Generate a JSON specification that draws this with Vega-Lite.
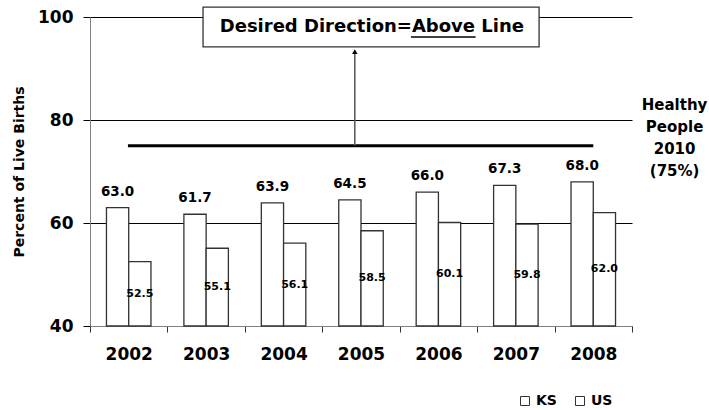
{
  "$schema": "https://vega.github.io/schema/vega-lite/v6.json",
  "width": 542,
  "height": 309,
  "autosize": {"type": "none"},
  "padding": {"left": 90, "top": 17, "right": 77, "bottom": 84},
  "background": "white",
  "config": {
    "font": "DejaVu Sans",
    "view": {"stroke": null},
    "axis": {"labelFont": "DejaVu Sans", "titleFont": "DejaVu Sans"},
    "legend": {"labelFont": "DejaVu Sans"},
    "text": {"font": "DejaVu Sans"}
  },
  "datasets": {
    "births": [
      {"year": "2002", "series": "KS", "value": 63.0},
      {"year": "2002", "series": "US", "value": 52.5},
      {"year": "2003", "series": "KS", "value": 61.7},
      {"year": "2003", "series": "US", "value": 55.1},
      {"year": "2004", "series": "KS", "value": 63.9},
      {"year": "2004", "series": "US", "value": 56.1},
      {"year": "2005", "series": "KS", "value": 64.5},
      {"year": "2005", "series": "US", "value": 58.5},
      {"year": "2006", "series": "KS", "value": 66.0},
      {"year": "2006", "series": "US", "value": 60.1},
      {"year": "2007", "series": "KS", "value": 67.3},
      {"year": "2007", "series": "US", "value": 59.8},
      {"year": "2008", "series": "KS", "value": 68.0},
      {"year": "2008", "series": "US", "value": 62.0}
    ]
  },
  "layer": [
    {
      "data": {"name": "births"},
      "encoding": {
        "x": {
          "field": "year",
          "type": "nominal",
          "scale": {"paddingInner": 0, "paddingOuter": 0},
          "axis": {
            "title": null,
            "labelAngle": 0,
            "labelFontSize": 17,
            "labelFontWeight": "bold",
            "labelColor": "black",
            "labelPadding": 14,
            "tickBand": "extent",
            "tickSize": 6,
            "tickColor": "#333",
            "domainColor": "#808080",
            "grid": false
          }
        },
        "xOffset": {"field": "series", "type": "nominal", "scale": {"paddingInner": 0, "paddingOuter": 0.74}},
        "y": {
          "field": "value",
          "type": "quantitative",
          "title": "Percent of Live Births",
          "scale": {"domain": [40, 100], "nice": false, "zero": false},
          "axis": {
            "values": [40, 60, 80, 100],
            "grid": true,
            "gridColor": "black",
            "gridOpacity": 1,
            "gridWidth": 1,
            "domainColor": "#808080",
            "tickColor": "black",
            "tickSize": 7,
            "labelFontSize": 17,
            "labelFontWeight": "bold",
            "labelColor": "black",
            "labelPadding": 10,
            "titleFontSize": 14,
            "titleFontWeight": "bold",
            "titleColor": "black",
            "titleAngle": -90,
            "titleX": -71,
            "titleY": 154.5,
            "titleAlign": "center",
            "titleBaseline": "middle"
          }
        }
      },
      "layer": [
        {
          "mark": {"type": "bar", "stroke": "#333", "strokeWidth": 1.3},
          "encoding": {
            "y2": {"datum": 40},
            "color": {
              "field": "series",
              "type": "nominal",
              "scale": {"range": ["white", "white"]},
              "legend": {
                "title": null,
                "orient": "none",
                "legendX": 428,
                "legendY": 377,
                "direction": "horizontal",
                "symbolType": "square",
                "symbolSize": 81,
                "symbolStrokeColor": "#333",
                "symbolStrokeWidth": 1,
                "labelFontSize": 14,
                "labelFontWeight": "bold",
                "labelColor": "black",
                "labelOffset": 4,
                "columnPadding": 16
              }
            }
          }
        },
        {
          "transform": [{"filter": "datum.series === 'KS'"}],
          "mark": {"type": "text", "baseline": "bottom", "dy": -9, "fontSize": 13.5, "fontWeight": "bold", "color": "black"},
          "encoding": {"text": {"field": "value", "type": "quantitative", "format": ".1f"}}
        },
        {
          "transform": [
            {"filter": "datum.series === 'US'"},
            {"calculate": "(datum.value + 40) / 2", "as": "mid"}
          ],
          "mark": {"type": "text", "baseline": "middle", "fontSize": 11, "fontWeight": "bold", "color": "black"},
          "encoding": {
            "y": {"field": "mid", "type": "quantitative", "title": "Percent of Live Births"},
            "text": {"field": "value", "type": "quantitative", "format": ".1f"}
          }
        }
      ]
    },
    {
      "data": {"values": [{}]},
      "layer": [
        {
          "mark": {"type": "rule", "color": "black", "strokeWidth": 3},
          "encoding": {
            "x": {"datum": 0.49, "type": "quantitative", "scale": {"domain": [0, 7], "nice": false, "zero": false}, "axis": null},
            "x2": {"datum": 6.5},
            "y": {"datum": 75, "type": "quantitative", "title": "Percent of Live Births"}
          }
        },
        {
          "mark": {"type": "rule", "color": "#555", "strokeWidth": 1.5},
          "encoding": {
            "x": {"datum": 3.42, "type": "quantitative", "scale": {"domain": [0, 7], "nice": false, "zero": false}, "axis": null},
            "y": {"datum": 75, "type": "quantitative", "title": "Percent of Live Births"},
            "y2": {"datum": 93.3}
          }
        },
        {
          "mark": {"type": "point", "shape": "triangle-up", "filled": true, "color": "black", "size": 30, "opacity": 1},
          "encoding": {
            "x": {"datum": 3.42, "type": "quantitative", "scale": {"domain": [0, 7], "nice": false, "zero": false}, "axis": null},
            "y": {"datum": 93.3, "type": "quantitative", "title": "Percent of Live Births"}
          }
        },
        {
          "mark": {"type": "rect", "fill": "white", "stroke": "#333", "strokeWidth": 1.3},
          "encoding": {
            "x": {"datum": 1.46, "type": "quantitative", "scale": {"domain": [0, 7], "nice": false, "zero": false}, "axis": null},
            "x2": {"datum": 5.8},
            "y": {"datum": 101.9, "type": "quantitative", "title": "Percent of Live Births"},
            "y2": {"datum": 94.2}
          }
        },
        {
          "mark": {"type": "text", "align": "center", "baseline": "middle", "fontSize": 18, "fontWeight": "bold", "color": "black"},
          "encoding": {
            "x": {"datum": 3.64, "type": "quantitative", "scale": {"domain": [0, 7], "nice": false, "zero": false}, "axis": null},
            "y": {"datum": 98.05, "type": "quantitative", "title": "Percent of Live Births"},
            "text": {"value": "Desired Direction=Above Line"}
          }
        },
        {
          "mark": {"type": "rule", "color": "black", "strokeWidth": 1.5},
          "encoding": {
            "x": {"datum": 4.145, "type": "quantitative", "scale": {"domain": [0, 7], "nice": false, "zero": false}, "axis": null},
            "x2": {"datum": 4.98},
            "y": {"datum": 96.1, "type": "quantitative", "title": "Percent of Live Births"}
          }
        },
        {
          "mark": {"type": "text", "align": "center", "baseline": "top", "fontSize": 15, "fontWeight": "bold", "color": "black", "lineHeight": 22},
          "encoding": {
            "x": {"datum": 7.55, "type": "quantitative", "scale": {"domain": [0, 7], "nice": false, "zero": false}, "axis": null},
            "y": {"datum": 84.3, "type": "quantitative", "title": "Percent of Live Births"},
            "text": {"value": ["Healthy", "People", "2010", "(75%)"]}
          }
        }
      ]
    }
  ],
  "resolve": {"scale": {"x": "independent"}}
}
